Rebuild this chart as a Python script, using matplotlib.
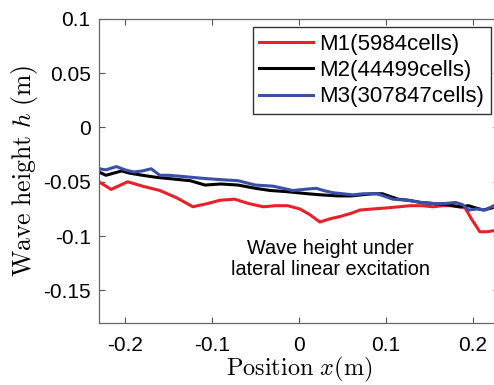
import matplotlib
matplotlib.use("Agg")
import matplotlib.pyplot as plt

plt.rcParams["mathtext.fontset"] = "cm"
plt.rcParams["font.family"] = ["Liberation Sans", "DejaVu Sans"]

# M1 (5984 cells)
x_m1 = [-0.230, -0.216, -0.197, -0.180, -0.160, -0.140, -0.122, -0.105, -0.091, -0.074,
        -0.058, -0.041, -0.027, -0.013, 0.001, 0.012, 0.024, 0.036, 0.047, 0.060,
        0.070, 0.085, 0.101, 0.115, 0.128, 0.142, 0.154, 0.165, 0.174, 0.184,
        0.191, 0.199, 0.208, 0.216, 0.224]
h_m1 = [-0.050, -0.057, -0.050, -0.054, -0.058, -0.065, -0.073, -0.070, -0.067, -0.066,
        -0.070, -0.073, -0.072, -0.072, -0.075, -0.080, -0.087, -0.084, -0.082, -0.079,
        -0.076, -0.075, -0.074, -0.073, -0.072, -0.072, -0.073, -0.072, -0.072, -0.073,
        -0.074, -0.085, -0.096, -0.096, -0.095]

# M2 (44499 cells)
x_m2 = [-0.230, -0.222, -0.213, -0.204, -0.195, -0.180, -0.163, -0.150, -0.125, -0.108,
        -0.090, -0.070, -0.050, -0.033, -0.015, 0.010, 0.025, 0.045, 0.060, 0.072,
        0.085, 0.096, 0.103, 0.114, 0.126, 0.140, 0.155, 0.170, 0.185, 0.195,
        0.203, 0.212, 0.222]
h_m2 = [-0.041, -0.044, -0.042, -0.040, -0.042, -0.044, -0.046, -0.047, -0.049, -0.053,
        -0.052, -0.053, -0.056, -0.058, -0.059, -0.061, -0.062, -0.063, -0.063, -0.062,
        -0.061, -0.061, -0.063, -0.066, -0.067, -0.069, -0.070, -0.071, -0.073, -0.072,
        -0.074, -0.076, -0.074]

# M3 (307847 cells)
x_m3 = [-0.230, -0.222, -0.210, -0.200, -0.190, -0.180, -0.170, -0.160, -0.150, -0.135,
        -0.108, -0.090, -0.070, -0.050, -0.030, -0.007, 0.005, 0.020, 0.028, 0.039,
        0.050, 0.062, 0.074, 0.090, 0.108, 0.125, 0.140, 0.155, 0.168, 0.180,
        0.188, 0.195, 0.205, 0.214, 0.224]
h_m3 = [-0.038, -0.039, -0.036, -0.039, -0.041, -0.040, -0.038, -0.044, -0.044, -0.045,
        -0.047, -0.048, -0.049, -0.053, -0.054, -0.058, -0.057, -0.056, -0.058, -0.060,
        -0.061, -0.062, -0.061, -0.061, -0.066, -0.067, -0.069, -0.070, -0.070, -0.069,
        -0.071, -0.076, -0.075, -0.076, -0.072]

labels = ["M1(5984cells)", "M2(44499cells)", "M3(307847cells)"]
colors = ["#e8202a", "#000000", "#3a4fa8"]

fig = plt.figure(figsize=(4.94, 3.85), dpi=100)
ax = fig.add_axes([0.2004, 0.161, 0.8097, 0.790])

ax.plot(x_m1, h_m1, color=colors[0], lw=2.2, label=labels[0])
ax.plot(x_m2, h_m2, color=colors[1], lw=2.2, label=labels[1])
ax.plot(x_m3, h_m3, color=colors[2], lw=2.2, label=labels[2])

ax.set_xlim(-0.23, 0.23)
ax.set_ylim(-0.18, 0.1)
ax.set_xticks([-0.2, -0.1, 0, 0.1, 0.2])
ax.set_xticklabels(["-0.2", "-0.1", "0", "0.1", "0.2"])
ax.set_yticks([-0.15, -0.1, -0.05, 0, 0.05, 0.1])
ax.set_yticklabels(["-0.15", "-0.1", "-0.05", "0", "0.05", "0.1"])
ax.tick_params(direction="in", top=True, right=True, length=4, width=0.8,
               labelsize=15, color="#555555")
ax.tick_params(axis="x", pad=9)
ax.tick_params(axis="y", pad=6)
for s in ax.spines.values():
    s.set_color("#666666")
    s.set_linewidth(0.9)

ax.set_xlabel(r"$\mathrm{Position}\ x\mathrm{(m)}$", fontsize=17.5, labelpad=0)
ax.set_ylabel(r"$\mathrm{Wave\ height}\ h\ \mathrm{(m)}$", fontsize=18.5, labelpad=2)

ax.text(0.036, -0.121, "Wave height under\nlateral linear excitation",
        ha="center", va="center", fontsize=14.3, linespacing=1.1)

leg = ax.legend(loc="upper right", bbox_to_anchor=(491 / 494, 1 - 27 / 385),
                bbox_transform=fig.transFigure, fontsize=16, frameon=True,
                fancybox=False, edgecolor="#000000", handlelength=2.4,
                handletextpad=0.3, borderpad=0.3, labelspacing=0.24,
                borderaxespad=0)
leg.get_frame().set_linewidth(1.0)

fig.savefig("out.png", dpi=100)
